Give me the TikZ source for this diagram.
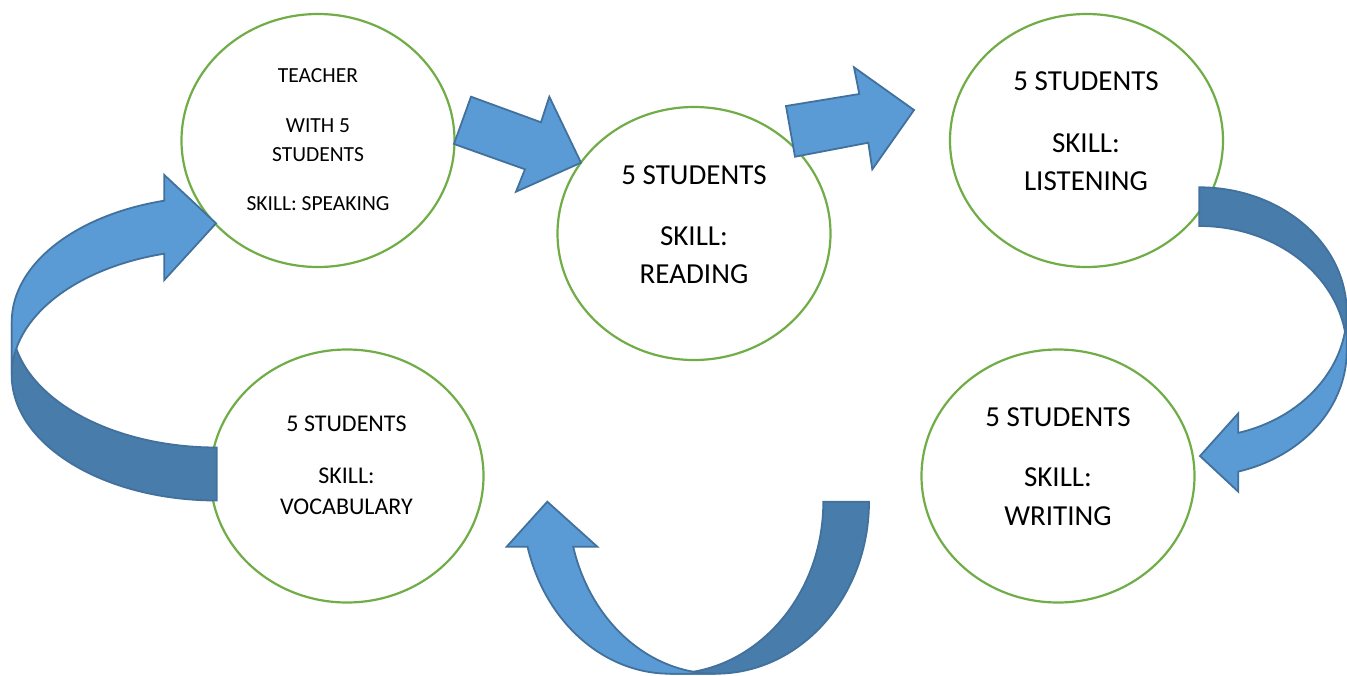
\documentclass[tikz,border=0pt]{standalone}
\usepackage{fontspec}
\setmainfont{Carlito}
\usetikzlibrary{shapes.geometric}

\definecolor{bubblegreen}{HTML}{70AD47}
\definecolor{arrowblue}{HTML}{5B9BD5}
\definecolor{arrowshade}{HTML}{487CAA}
\definecolor{arrowedge}{HTML}{41719C}

\tikzset{
  bubble/.style={ellipse, draw=bubblegreen, line width=2.2pt, fill=white,
    minimum width=273pt, minimum height=253pt, inner sep=0pt},
  bigtext/.style={font=\fontsize{29}{35}\selectfont, inner sep=0pt},
  midtext/.style={font=\fontsize{24}{29}\selectfont, inner sep=0pt},
  smalltext/.style={font=\fontsize{21.5}{26}\selectfont, inner sep=0pt},
  blockfront/.style={fill=arrowblue, draw=arrowedge, line width=1.8pt, line join=miter},
  blockback/.style={fill=arrowshade, draw=arrowedge, line width=1.8pt, line join=miter}
}

\begin{document}
\begin{tikzpicture}[x=1pt,y=-1pt]
\useasboundingbox (0,0) rectangle (1347,675);
\fill[white] (0,0) rectangle (1347,675);

% the five groups
\node[bubble] (teacher)   at (318,140.5) {};
\node[bubble] (reading)   at (694,233.5) {};
\node[bubble] (listening) at (1086.5,140.5) {};
\node[bubble] (writing)   at (1058,476) {};
\node[bubble] (vocab)     at (347,476) {};

% labels
\node[smalltext] (teacher-a) at (318,76)  {TEACHER};
\node[smalltext] (teacher-b) at (318,126) {WITH 5};
\node[smalltext] (teacher-c) at (318,155) {STUDENTS};
\node[smalltext] (teacher-d) at (318,204) {SKILL: SPEAKING};

\node[bigtext] (reading-a) at (694,175.5) {5 STUDENTS};
\node[bigtext] (reading-b) at (694,236.5) {SKILL:};
\node[bigtext] (reading-c) at (694,274)   {READING};

\node[bigtext] (listening-a) at (1086,81.5) {5 STUDENTS};
\node[bigtext] (listening-b) at (1086,143.5) {SKILL:};
\node[bigtext] (listening-c) at (1086,181)   {LISTENING};

\node[bigtext] (writing-a) at (1058,417.5) {5 STUDENTS};
\node[bigtext] (writing-b) at (1058,477.5) {SKILL:};
\node[bigtext] (writing-c) at (1058,516)   {WRITING};

\node[midtext] (vocab-a) at (346.5,424) {5 STUDENTS};
\node[midtext] (vocab-b) at (346.5,476) {SKILL:};
\node[midtext] (vocab-c) at (346.5,507) {VOCABULARY};

% straight block arrows
\draw[blockfront] (471,96.7) -- (541,122.3) -- (549.3,96.7) -- (581,162.7)
  -- (516,191.7) -- (525,169.3) -- (454,144) -- cycle;
\draw[blockfront] (786,106) -- (859.3,94) -- (854,67.3) -- (914,110)
  -- (872.3,169.3) -- (868.3,142.7) -- (795,156.7) -- cycle;

% curved arrow on the right (listening to writing)
\draw[blockback] (1199.3,187.3) arc[start angle=270,end angle=360,x radius=147.4,y radius=125]
  -- (1346.7,351) arc[start angle=0,end angle=-90,x radius=147.4,y radius=125] -- cycle;
\draw[blockfront] (1346.7,351) arc[start angle=0,end angle=74.66,x radius=147.4,y radius=125]
  -- (1238.3,491.7) -- (1200,456) -- (1238.3,413.3) -- (1238.3,432.85)
  arc[start angle=74.66,end angle=0,x radius=147.4,y radius=125] -- cycle;

% curved arrow at the bottom (writing to vocabulary)
\draw[blockback] (869,501.7) arc[start angle=0,end angle=90,x radius=153.3,y radius=172]
  -- (670,673.7) arc[start angle=90,end angle=0,x radius=153.3,y radius=172] -- cycle;
\draw[blockfront] (670,673.7) arc[start angle=90,end angle=164.83,x radius=147.6,y radius=172]
  -- (506.7,546.7) -- (547.3,501.7) -- (597.3,546.7) -- (573.2,546.7)
  arc[start angle=164.83,end angle=90,x radius=147.6,y radius=172] -- cycle;

% curved arrow on the left (vocabulary to teacher)
\draw[blockback] (216.7,500.5) arc[start angle=90,end angle=180,x radius=205,y radius=125.5]
  -- (11.7,322) arc[start angle=180,end angle=90,x radius=205,y radius=125.5] -- cycle;
\draw[blockfront] (11.7,322) arc[start angle=180,end angle=255.19,x radius=205,y radius=125.5]
  -- (164.3,175) -- (216,223.3) -- (164.3,280) -- (164.3,253.7)
  arc[start angle=255.19,end angle=180,x radius=205,y radius=125.5] -- cycle;
\end{tikzpicture}
\end{document}
